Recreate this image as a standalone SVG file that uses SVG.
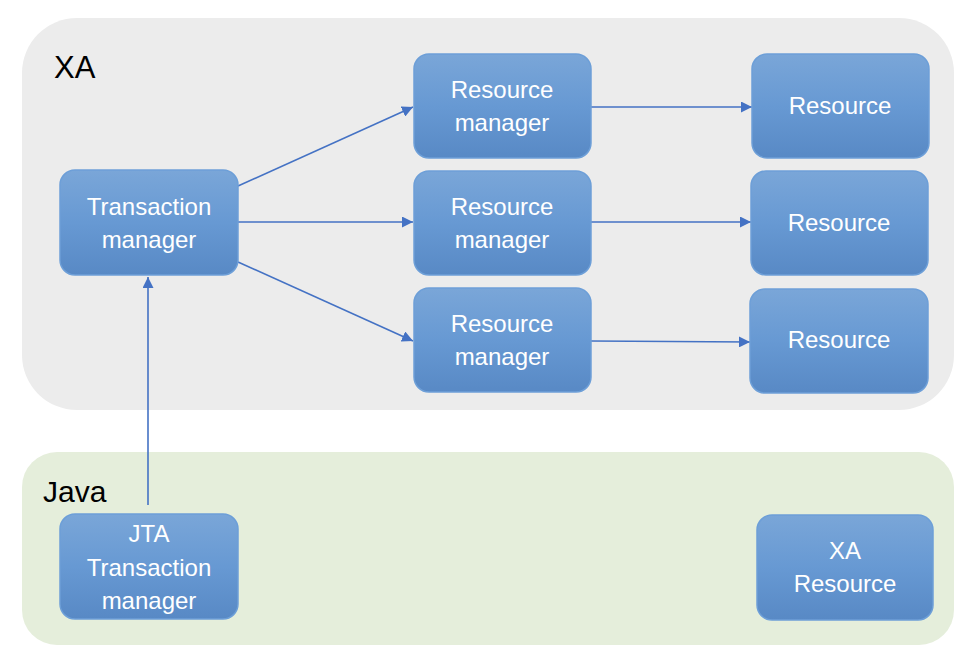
<svg xmlns="http://www.w3.org/2000/svg" width="966" height="658" viewBox="0 0 966 658">
<defs>
<linearGradient id="g" x1="0" y1="0" x2="0" y2="1">
<stop offset="0" stop-color="#7aa6d8"/>
<stop offset="0.5" stop-color="#6799d3"/>
<stop offset="1" stop-color="#5889c5"/>
</linearGradient>
<marker id="ah" viewBox="0 0 10 10" refX="10" refY="5" markerWidth="11" markerHeight="11" markerUnits="userSpaceOnUse" orient="auto">
<path d="M0,0 L10,5 L0,10 z" fill="#4472c4"/>
</marker>
<style>
.n rect{fill:url(#g);stroke:#6d9fd8;stroke-width:1.5}
.n text{fill:#fff;font-family:"Liberation Sans",Arial,sans-serif;font-size:24px;text-anchor:middle}
.c line{stroke:#4472c4;stroke-width:1.6;marker-end:url(#ah)}
.lbl{font-family:"Liberation Sans",Arial,sans-serif;fill:#000}
</style>
</defs>
<rect width="966" height="658" fill="#fff"/>
<g id="xa-area">
<rect x="22" y="18" width="932" height="392" rx="55" fill="#ececec"/>
<text class="lbl" x="54" y="78" font-size="31">XA</text>
</g>
<g id="java-area">
<rect x="22" y="452" width="932" height="193" rx="35" fill="#e5eedb"/>
<text class="lbl" x="43" y="502" font-size="30">Java</text>
</g>
<g id="connectors" class="c">
<line x1="238" y1="186" x2="413" y2="107"/>
<line x1="238" y1="222" x2="413" y2="222"/>
<line x1="238" y1="262" x2="413" y2="341"/>
<line x1="591" y1="107" x2="752" y2="107"/>
<line x1="591" y1="222" x2="751" y2="222"/>
<line x1="591" y1="341" x2="750" y2="342"/>
<line x1="148" y1="505" x2="148" y2="277"/>
</g>
<g id="tm" class="n">
<rect x="60" y="170" width="178" height="105" rx="15"/>
<text x="149" y="215">Transaction</text>
<text x="149" y="248">manager</text>
</g>
<g id="rm1" class="n">
<rect x="414" y="54" width="177" height="104" rx="15"/>
<text x="502" y="98">Resource</text>
<text x="502" y="131">manager</text>
</g>
<g id="rm2" class="n">
<rect x="414" y="171" width="177" height="104" rx="15"/>
<text x="502" y="215">Resource</text>
<text x="502" y="248">manager</text>
</g>
<g id="rm3" class="n">
<rect x="414" y="288" width="177" height="104" rx="15"/>
<text x="502" y="332">Resource</text>
<text x="502" y="365">manager</text>
</g>
<g id="r1" class="n">
<rect x="752" y="54" width="177" height="104" rx="15"/>
<text x="840" y="114">Resource</text>
</g>
<g id="r2" class="n">
<rect x="751" y="171" width="177" height="104" rx="15"/>
<text x="839" y="231">Resource</text>
</g>
<g id="r3" class="n">
<rect x="750" y="289" width="178" height="104" rx="15"/>
<text x="839" y="348">Resource</text>
</g>
<g id="jta" class="n">
<rect x="60" y="514" width="178" height="105" rx="15"/>
<text x="149" y="542">JTA</text>
<text x="149" y="576">Transaction</text>
<text x="149" y="609">manager</text>
</g>
<g id="xares" class="n">
<rect x="757" y="515" width="176" height="105" rx="15"/>
<text x="845" y="559">XA</text>
<text x="845" y="592">Resource</text>
</g>
</svg>
